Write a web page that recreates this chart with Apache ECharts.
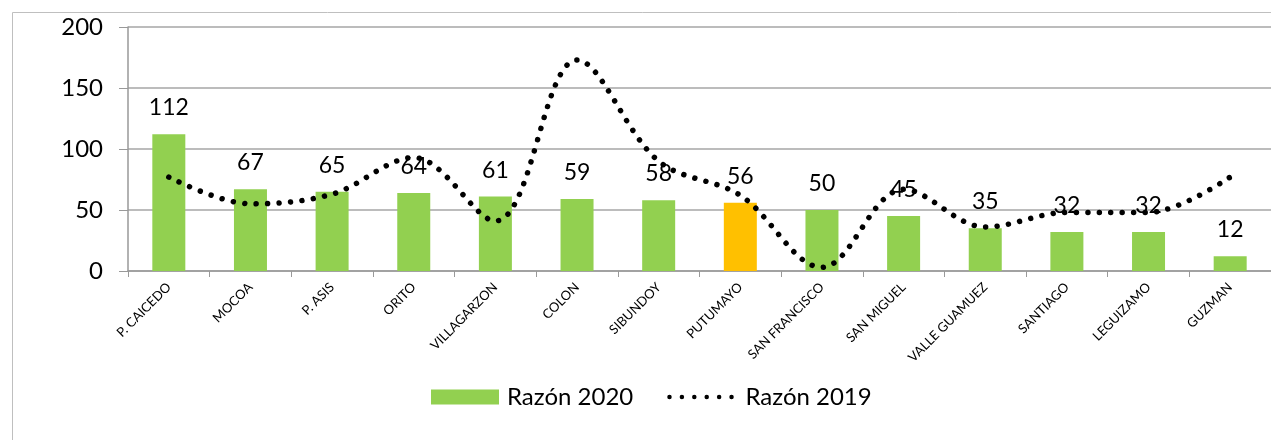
<!DOCTYPE html>
<html>
<head>
<meta charset="utf-8">
<script src="https://cdn.jsdelivr.net/npm/echarts@6/dist/echarts.min.js"></script>
<style>
  html, body { margin: 0; padding: 0; background: #fff; }
  #chart { width: 1271px; height: 440px; }
</style>
</head>
<body>
<div id="chart"></div>
<script>
var municipios = ['P. CAICEDO', 'MOCOA', 'P. ASIS', 'ORITO', 'VILLAGARZON', 'COLON', 'SIBUNDOY',
  'PUTUMAYO', 'SAN FRANCISCO', 'SAN MIGUEL', 'VALLE GUAMUEZ', 'SANTIAGO', 'LEGUIZAMO', 'GUZMAN']
var razon2020 = [112, 67, 65, 64, 61, 59, 58, 56, 50, 45, 35, 32, 32, 12]
var razon2019 = [77, 55, 63, 93, 41, 173, 90, 62, 3, 67, 36, 48, 48, 77]
var resaltado = 'PUTUMAYO'

var myChart = echarts.init(document.getElementById('chart'))
var fuente = 'Lato'

// la barra del departamento va en amarillo
var barData = razon2020.map(function(v, i) {
  return {
    value: v,
    itemStyle: { color: municipios[i] === resaltado ? '#ffc000' : '#92d050' }
  }
})

var option = {
  animation: false,
  textStyle: { fontFamily: fuente },
  graphic: [
    {
      type: 'rect',
      left: 10,
      top: 10,
      shape: { width: 1300, height: 500 },
      style: { fill: 'none', stroke: '#bfbfbf', lineWidth: 1 },
      z: -10
    }
  ],
  grid: { left: 128, top: 27, right: -5, bottom: 169 },
  legend: {
    bottom: 26,
    left: 426,
    itemGap: 34,
    itemWidth: 68,
    itemHeight: 15,
    textStyle: { fontFamily: fuente, fontSize: 24, color: '#000', padding: [0, 0, 0, 3] },
    data: [
      { name: 'Razón 2020', icon: 'rect', itemStyle: { color: '#92d050' } },
      {
        name: 'Razón 2019',
        itemStyle: { opacity: 0 },
        lineStyle: { color: '#000', width: 4.5, type: [0.01, 12.4], cap: 'round' }
      }
    ]
  },
  xAxis: {
    type: 'category',
    data: municipios,
    axisLine: { lineStyle: { color: '#999', width: 1.5 } },
    axisTick: { show: true, length: 6, lineStyle: { color: '#999' } },
    axisLabel: {
      rotate: 45,
      interval: 0,
      fontSize: 13,
      color: '#000',
      margin: 14,
      fontFamily: fuente
    }
  },
  yAxis: {
    type: 'value',
    min: 0,
    max: 200,
    interval: 50,
    axisLine: { show: true, lineStyle: { color: '#999', width: 1.5 } },
    axisTick: { show: true, length: 9, lineStyle: { color: '#999' } },
    axisLabel: { fontSize: 24, color: '#000', margin: 25, fontFamily: fuente },
    splitLine: { lineStyle: { color: '#a6a6a6', width: 1.5 } }
  },
  series: [
    {
      name: 'Razón 2020',
      type: 'bar',
      barWidth: 33,
      data: barData,
      label: {
        show: true,
        position: 'top',
        distance: 15,
        fontSize: 23,
        color: '#000',
        fontFamily: fuente
      }
    },
    {
      name: 'Razón 2019',
      type: 'line',
      smooth: 0.35,
      showSymbol: false,
      symbol: 'none',
      itemStyle: { color: '#000' },
      lineStyle: { color: '#000', width: 5.5, type: [0.01, 11.5], cap: 'round' },
      data: razon2019,
      z: 3
    }
  ]
}
myChart.setOption(option)
window.onresize = function() {
  myChart.resize()
}
</script>
</body>
</html>
